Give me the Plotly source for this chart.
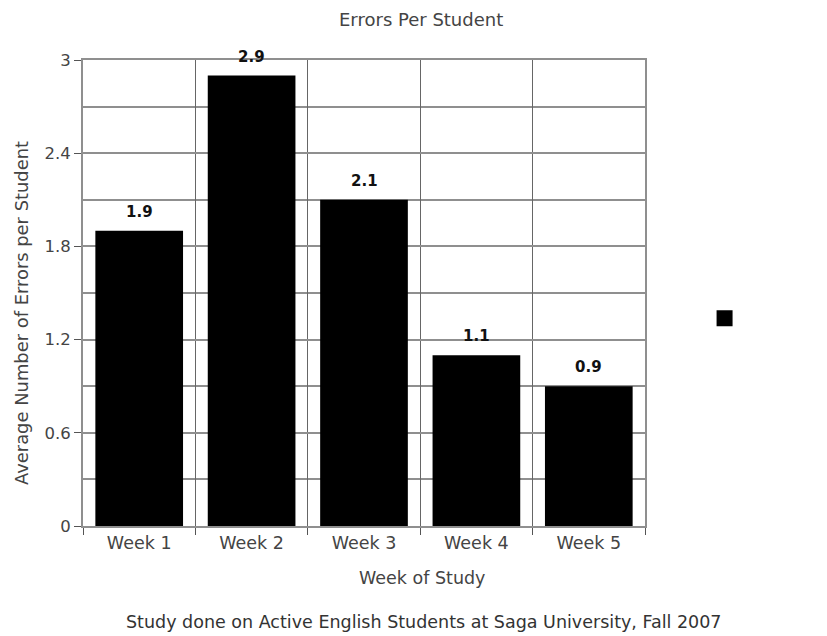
import plotly.graph_objects as go

weeks = ["Week 1", "Week 2", "Week 3", "Week 4", "Week 5"]
avg_errors = [1.9, 2.9, 2.1, 1.1, 0.9]
y_ticks = [0, 0.6, 1.2, 1.8, 2.4, 3]
y_tick_text = ["0", "0.6", "1.2", "1.8", "2.4", "3"]

FONT = "DejaVu Sans, Verdana, sans-serif"
GRID = "#8f8f8f"
TXT = "#444"

# plot area in pixels, used to place the free-standing titles
L, R, T, B = 83, 182, 60, 110
W, H = 827, 636
PW, PH = W - L - R, H - T - B


def px_to_paper(px, py):
    return (px - L) / PW, (H - B - py) / PH


fig = go.Figure()

fig.add_trace(go.Bar(
    x=weeks,
    y=avg_errors,
    width=0.78,
    marker=dict(color="black", line=dict(width=0)),
    showlegend=False,
))

# legend key (series without a name)
fig.add_trace(go.Scatter(
    x=[None], y=[None],
    mode="markers",
    marker=dict(symbol="square", size=20, color="black"),
    name="",
    showlegend=True,
))

# value labels above each bar
value_labels = [
    dict(x=w, y=v, xref="x", yref="y", text=f"<b>{v:.1f}</b>", showarrow=False,
         yanchor="bottom", yshift=8, font=dict(family=FONT, size=15, color="#111"))
    for w, v in zip(weeks, avg_errors)
]


def text_at(text, px, py, size, angle=0, color=TXT):
    x, y = px_to_paper(px, py)
    return dict(text=text, x=x, y=y, xref="paper", yref="paper", xanchor="center",
                yanchor="middle", showarrow=False, textangle=angle,
                font=dict(family=FONT, size=size, color=color))


titles = [
    text_at("Errors Per Student", 421, 19, 18),
    text_at("Week of Study", 422, 578, 17.5),
    text_at("Average Number of Errors per Student", 21, 313, 17.9, angle=-90),
    text_at("Study done on Active English Students at Saga University, Fall 2007", 423.5, 622, 17.5, color="#333"),
]

fig.update_layout(
    width=W,
    height=H,
    margin=dict(l=L, r=R, t=T, b=B),
    paper_bgcolor="white",
    plot_bgcolor="white",
    font=dict(family=FONT, size=17, color=TXT),
    legend=dict(x=1.106, y=0.446, xanchor="left", yanchor="middle", xref="paper", yref="paper",
                itemsizing="trace", font=dict(size=1), bgcolor="rgba(0,0,0,0)",
                itemwidth=30, tracegroupgap=0),
    annotations=value_labels + titles,
)

fig.update_xaxes(
    type="category",
    tickson="boundaries",
    ticks="outside",
    ticklen=7,
    tickcolor="#555",
    showgrid=True,
    gridcolor="#666",
    gridwidth=1,
    showline=True,
    linecolor=GRID,
    linewidth=2,
    mirror=True,
    tickfont=dict(size=17.5, color=TXT),
)

fig.update_yaxes(
    range=[0, 3],
    tickvals=y_ticks,
    ticktext=y_tick_text,
    ticks="outside",
    ticklen=7,
    tickcolor="#555",
    showgrid=True,
    gridcolor=GRID,
    gridwidth=2,
    minor=dict(dtick=0.3, showgrid=True, gridcolor=GRID, gridwidth=2, ticks=""),
    showline=True,
    linecolor=GRID,
    linewidth=2,
    mirror=True,
    zeroline=False,
    tickfont=dict(size=16.5, color=TXT),
)

fig.write_html("out.html")
